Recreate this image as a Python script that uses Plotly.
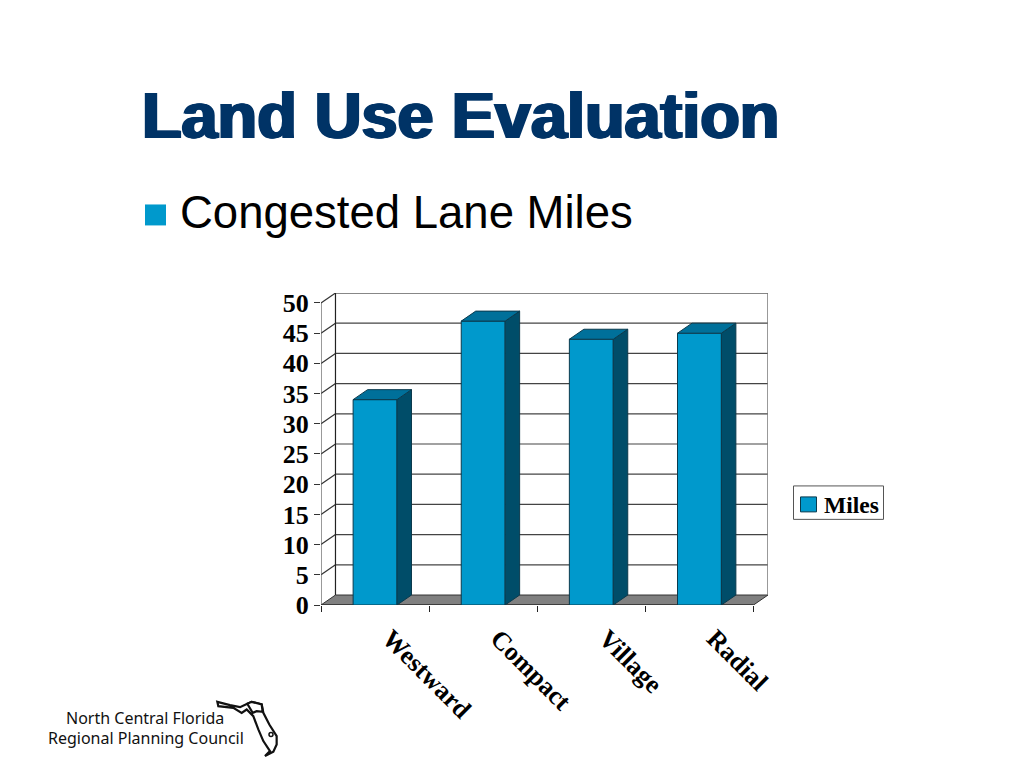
import numpy as np
import plotly.graph_objects as go

categories = ["Westward", "Compact", "Village", "Radial"]
miles = [34, 47, 44, 45]
y_ticks = [0, 5, 10, 15, 20, 25, 30, 35, 40, 45, 50]
legend_label = "Miles"

W, H = 1024, 768
# plot area in page pixels
LEFT, RIGHT, TOP, BOTTOM = 321, 768, 292.7, 605.3
CAT_PX = 108.25
UNIT_PX = 6.05
DX = 14.5 / CAT_PX  # depth of the fake 3d box, in data units
DY = 10 / UNIT_PX
BAR_W = 0.406

FRONT = "#0099CC"
TOP_FACE = "#00709A"
SIDE = "#004D69"
EDGE = "#0B3A4D"
SERIF = "Liberation Serif"
SANS = "Liberation Sans"


def px(x):
    return (x - LEFT) / (RIGHT - LEFT)


def py(y):
    return (BOTTOM - y) / (BOTTOM - TOP)


x0, x1 = -0.5, len(categories) - 0.5
fig = go.Figure()

fig.add_trace(go.Bar(
    x=list(range(len(categories))), y=miles, width=BAR_W, name=legend_label,
    marker=dict(color=FRONT, line=dict(color=EDGE, width=1)),
    hoverinfo="y", showlegend=False,
))

# side and top faces of each bar
for i, v in enumerate(miles):
    l, r = i - BAR_W / 2, i + BAR_W / 2
    fig.add_trace(go.Scatter(
        x=[r, r + DX, r + DX, r, r], y=[0, DY, v + DY, v, 0],
        mode="lines", fill="toself", fillcolor=SIDE,
        line=dict(color=EDGE, width=1), showlegend=False, hoverinfo="skip",
    ))
    fig.add_trace(go.Scatter(
        x=[l, l + DX, r + DX, r, l], y=[v, v + DY, v + DY, v, v],
        mode="lines", fill="toself", fillcolor=TOP_FACE,
        line=dict(color=EDGE, width=1), showlegend=False, hoverinfo="skip",
    ))

shapes = []


def seg(xa, ya, xb, yb, color="#333333", width=1.2):
    shapes.append(dict(type="line", xref="x", yref="y", x0=xa, y0=ya, x1=xb, y1=yb,
                       line=dict(color=color, width=width), layer="below"))


# floor
shapes.append(dict(
    type="path", xref="x", yref="y", layer="below",
    path=f"M{x0},0 L{x0 + DX},{DY} L{x1 + DX},{DY} L{x1},0 Z",
    fillcolor="#808080", line=dict(color="#333333", width=1),
))
# grid lines on the back and left walls
for t in y_ticks[1:]:
    seg(x0, t, x0 + DX, t + DY)
    seg(x0 + DX, t + DY, x1 + DX, t + DY, "#444444" if t < 50 else "#111111")
seg(x0, 0, x0, 50, "#555555")
seg(x0 + DX, DY, x0 + DX, 50 + DY, "#222222")
seg(x1 + DX, DY, x1 + DX, 50 + DY, "#777777", 1.5)
seg(x0, 0, x1, 0, "#222222")

# bullet next to the subtitle
shapes.append(dict(type="rect", xref="paper", yref="paper", layer="above",
                   x0=px(145), x1=px(166), y0=py(225), y1=py(204),
                   fillcolor=FRONT, line=dict(width=0)))

# legend box and swatch
shapes.append(dict(type="rect", xref="paper", yref="paper", layer="above",
                   x0=px(793.5), x1=px(883.5), y0=py(519.5), y1=py(486),
                   fillcolor="white", line=dict(color="#555555", width=1)))
shapes.append(dict(type="rect", xref="paper", yref="paper", layer="above",
                   x0=px(800.5), x1=px(816.5), y0=py(512), y1=py(497),
                   fillcolor=FRONT, line=dict(color=EDGE, width=1)))

# Florida outline of the logo
logo = [(22, 22), (60, 32), (90, 38), (112, 28), (125, 22), (155, 30), (160, 55),
        (178, 90), (200, 125), (200, 150), (190, 172), (165, 185), (180, 170),
        (160, 140), (145, 105), (130, 65), (110, 45), (95, 55), (70, 40), (25, 35)]
county = [(112, 28), (125, 22), (155, 30), (158, 52), (140, 50), (128, 55)]


def logo_path(points):
    return "M" + " L".join(f"{px(210 + a / 3):.4f},{py(695 + b / 3):.4f}" for a, b in points) + " Z"


shapes.append(dict(type="path", xref="paper", yref="paper", layer="above", path=logo_path(logo),
                   fillcolor="white", line=dict(color="#111111", width=2.2)))
shapes.append(dict(type="path", xref="paper", yref="paper", layer="above", path=logo_path(county),
                   fillcolor="white", line=dict(color="#111111", width=2.2)))
shapes.append(dict(type="circle", xref="paper", yref="paper", layer="above",
                   x0=px(269), x1=px(273), y0=py(737), y1=py(733),
                   fillcolor="white", line=dict(color="#111111", width=1.5)))

annotations = [
    dict(text="Congested Lane Miles", x=px(178), y=py(212.5), xref="paper", yref="paper",
         xanchor="left", yanchor="middle", showarrow=False,
         font=dict(family=SANS, size=45.5, color="#000000")),
    dict(text="North Central Florida", x=px(64), y=py(719), xref="paper", yref="paper",
         xanchor="left", yanchor="middle", showarrow=False,
         font=dict(family="Noto Sans", size=16, color="#111111")),
    dict(text="Regional Planning Council", x=px(45.5), y=py(739), xref="paper", yref="paper",
         xanchor="left", yanchor="middle", showarrow=False,
         font=dict(family="Noto Sans", size=16, color="#111111")),
    dict(text=f"<b>{legend_label}</b>", x=px(822), y=py(505.5), xref="paper", yref="paper",
         xanchor="left", yanchor="middle", showarrow=False,
         font=dict(family=SERIF, size=23.5, color="#000000")),
]

fig.update_layout(
    width=W, height=H,
    margin=dict(l=LEFT, r=W - RIGHT, t=TOP, b=H - BOTTOM, autoexpand=False),
    paper_bgcolor="white", plot_bgcolor="white",
    title=dict(
        text="<b>Land Use Evaluation</b>", x=142 / W, xanchor="left", xref="container",
        y=1 - 115 / H, yanchor="middle", yref="container",
        font=dict(family=SANS, size=64.8, color="#003366",
                  shadow="1.5px 0 0 #003366, -1.5px 0 0 #003366, 0 0.7px 0 #003366"),
    ),
    shapes=shapes, annotations=annotations,
    showlegend=False,
    xaxis=dict(
        range=[x0, x1 + DX], tickmode="array", tickvals=list(range(len(categories))),
        ticktext=[f"<b>{c}</b>" for c in categories], tickangle=45, ticks="",
        ticklabelstandoff=12, ticklabelshift=15, showgrid=False, zeroline=False, showline=False,
        tickfont=dict(family=SERIF, size=26, color="#000000"),
        minor=dict(tickmode="array", tickvals=list(np.arange(len(categories) + 1) - 0.5),
                   ticks="outside", ticklen=6, tickcolor="#222222", showgrid=False),
    ),
    yaxis=dict(
        range=[0, 50 + DY], tickmode="array", tickvals=y_ticks,
        ticktext=[f"<b>{t}</b>" for t in y_ticks], ticks="outside", ticklen=6,
        tickcolor="#333333", showgrid=False, zeroline=False, showline=False,
        tickfont=dict(family=SERIF, size=26, color="#000000"),
    ),
)

fig.write_html("out.html", config={"displayModeBar": False},
               post_script="document.body.style.margin='0';")
